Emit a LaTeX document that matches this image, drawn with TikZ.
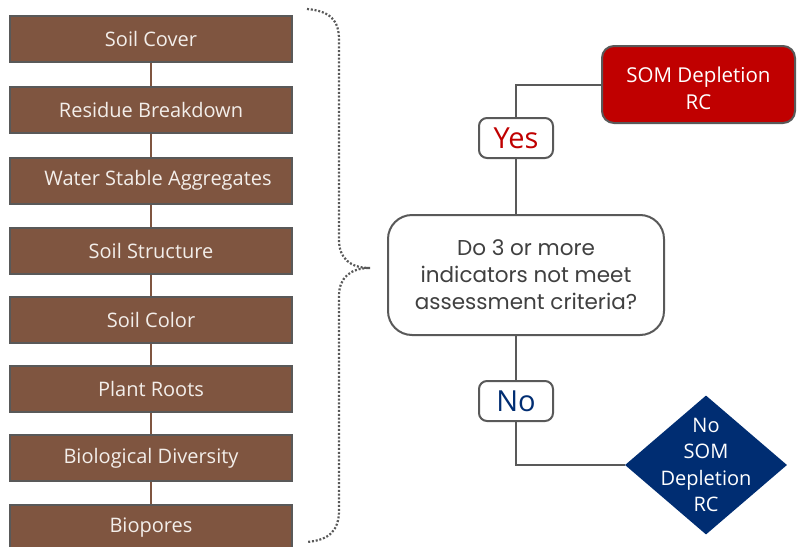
\documentclass[tikz,border=0pt]{standalone}
\usepackage{fontspec}
\setmainfont{Open Sans}
\newfontfamily\geofont{Poppins}
\usetikzlibrary{shapes.geometric}

\definecolor{soilbrown}{HTML}{7F5540}
\definecolor{edgegray}{HTML}{595959}
\definecolor{rcred}{HTML}{C00000}
\definecolor{rcblue}{HTML}{002D72}
\definecolor{boxtext}{HTML}{F3EEEA}

\tikzset{
  indicator/.style={draw=edgegray, line width=2pt, fill=soilbrown, text=boxtext,
    minimum width=282pt, minimum height=46pt, inner sep=0pt, font=\fontsize{20}{22}\selectfont},
  chain/.style={soilbrown, line width=2pt},
  flow/.style={edgegray, line width=2pt},
  answer/.style={draw=edgegray, line width=2pt, fill=white, rounded corners=8pt,
    minimum width=74pt, minimum height=40pt, inner sep=0pt, font=\fontsize{29}{30}\selectfont},
}

\begin{document}
\begin{tikzpicture}[x=1pt, y=-1pt]
  \useasboundingbox (0,0) rectangle (797,546);

  % Indicator boxes
  \node[indicator] (cover)   at (151,38.5) {Soil Cover};
  \node[indicator] (residue) at (151,110)  {Residue Breakdown};
  \node[indicator] (water)   at (151,180.5){\hspace*{14pt}Water Stable Aggregates};
  \node[indicator] (struct)  at (151,250.5){Soil Structure};
  \node[indicator] (color)   at (151,320)  {Soil Color};
  \node[indicator] (roots)   at (151,389)  {Plant Roots};
  \node[indicator] (bio)     at (151,458)  {Biological Diversity};
  \node[indicator] (pores)   at (151,528)  {Biopores};

  % Brown links between boxes
  \draw[chain] (cover) -- (residue);
  \draw[chain] (residue) -- (water);
  \draw[chain] (water) -- (struct);
  \draw[chain] (struct) -- (color);
  \draw[chain] (color) -- (roots);
  \draw[chain] (roots) -- (bio);
  \draw[chain] (bio) -- (pores);

  % Dotted brace
  \draw[edgegray, line width=2.2pt, dash pattern=on 2pt off 1.8pt]
    (307,9) .. controls (330,11) and (339,20) .. (339,40) -- (339,240)
    .. controls (339,258) and (350,268) .. (370,268)
    .. controls (350,268) and (339,278) .. (339,296) -- (339,510)
    .. controls (339,530) and (330,540) .. (307,542);

  % Question
  \node[draw=edgegray, line width=2pt, rounded corners=24pt, fill=white,
        minimum width=276pt, minimum height=120pt, align=center,
        font=\geofont\fontsize{21.5}{27}\selectfont, text=black!75]
    (question) at (526,275) {Do 3 or more\\indicators not meet\\assessment criteria?};

  % Answers
  \node[answer, text=rcred]  (yes) at (516,138) {Yes};
  \node[answer, text=rcblue] (no)  at (516,401) {No};

  % Outcomes
  \node[draw=edgegray, line width=2pt, fill=rcred, rounded corners=12pt, minimum width=193pt,
        minimum height=77pt,
        label={[text=white, align=center, font=\fontsize{20.5}{27}\selectfont, yshift=-4pt]center:SOM Depletion\\RC}]
    (depl) at (698.5,84.5) {};
  \node[diamond, fill=rcblue, inner sep=0pt, minimum width=162pt, minimum height=139pt,
        label={[text=white, align=center, font=\fontsize{20}{26.5}\selectfont]center:No\\SOM\\Depletion\\RC}]
    (nodepl) at (706,465) {};

  % Connectors
  \draw[flow] (question.north -| yes) -- (yes.south);
  \draw[flow] (yes.north) |- (depl.west);
  \draw[flow] (question.south -| no) -- (no.north);
  \draw[flow] (no.south) |- (nodepl.west);
\end{tikzpicture}
\end{document}
